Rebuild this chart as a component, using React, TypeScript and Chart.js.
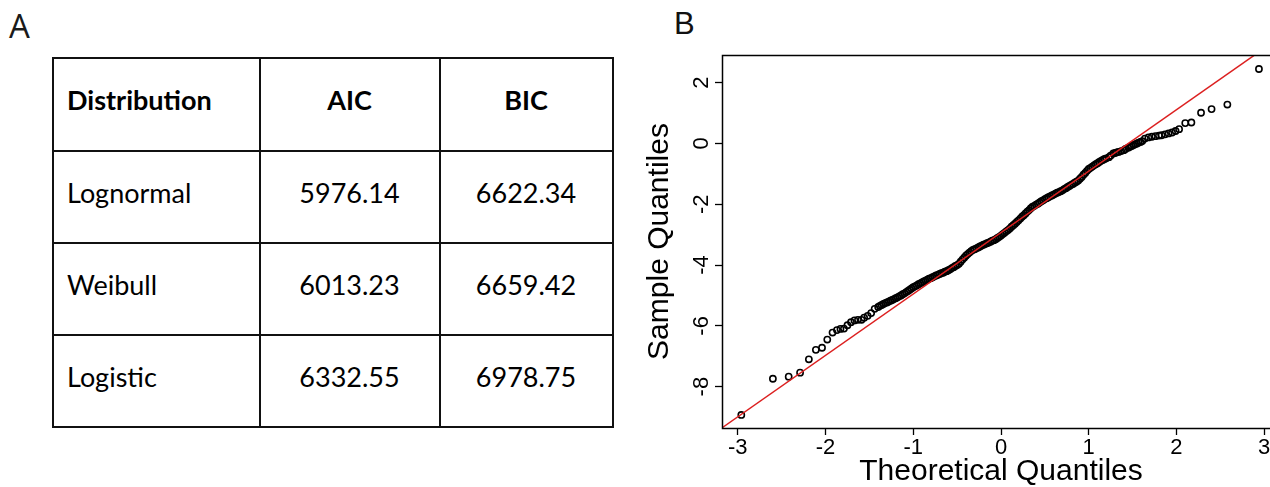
import React, { useEffect, useRef } from "react";
import { Chart, registerables } from "chart.js";

Chart.register(...registerables);

// ---------- Panel A data ----------
const tableHeaders = ["Distribution", "AIC", "BIC"];
const distributions = ["Lognormal", "Weibull", "Logistic"];
const aicValues = [5976.14, 6013.23, 6332.55];
const bicValues = [6622.34, 6659.42, 6978.75];

// ---------- Panel B data ----------
const theoreticalQuantiles = [
  -2.96, -2.6, -2.42, -2.29, -2.19, -2.11, -2.04, -1.98, -1.92, -1.87, -1.83, -1.79,
  -1.75, -1.71, -1.67, -1.63, -1.59, -1.56, -1.52, -1.48, -1.44, -1.4, -1.38,
  -1.36, -1.34, -1.32, -1.3, -1.28, -1.26, -1.24, -1.22, -1.2, -1.18, -1.16, -1.14,
  -1.12, -1.1, -1.08, -1.06, -1.04, -1.02, -1.0, -0.98, -0.96, -0.94, -0.92, -0.9,
  -0.88, -0.86, -0.84, -0.82, -0.8, -0.78, -0.76, -0.74, -0.72, -0.7, -0.68, -0.66,
  -0.64, -0.62, -0.6, -0.58, -0.56, -0.54, -0.52, -0.5, -0.48, -0.46, -0.44, -0.42,
  -0.4, -0.38, -0.36, -0.34, -0.32, -0.3, -0.28, -0.26, -0.24, -0.22, -0.2, -0.18,
  -0.16, -0.14, -0.12, -0.1, -0.08, -0.06, -0.04, -0.02, 0.0, 0.02, 0.04, 0.06,
  0.08, 0.1, 0.12, 0.14, 0.16, 0.18, 0.2, 0.22, 0.24, 0.26, 0.28, 0.3,
  0.32, 0.34, 0.36, 0.38, 0.4, 0.42, 0.44, 0.46, 0.48, 0.5, 0.52, 0.54,
  0.56, 0.58, 0.6, 0.62, 0.64, 0.66, 0.68, 0.7, 0.72, 0.74, 0.76, 0.78,
  0.8, 0.82, 0.84, 0.86, 0.88, 0.9, 0.92, 0.94, 0.96, 0.98, 1.0, 1.02,
  1.04, 1.06, 1.08, 1.1, 1.12, 1.14, 1.16, 1.18, 1.2,
  1.23, 1.25, 1.28, 1.3, 1.32, 1.34, 1.37, 1.4, 1.42, 1.45, 1.47, 1.49,
  1.51, 1.53, 1.55, 1.57, 1.59, 1.61, 1.64, 1.68, 1.72, 1.76, 1.8, 1.83,
  1.87, 1.91, 1.95, 1.99, 2.03, 2.1, 2.17, 2.28, 2.4, 2.58, 2.94,
];

const sampleQuantiles = [
  -8.93, -7.74, -7.67, -7.54, -7.1, -6.79, -6.72, -6.45, -6.22, -6.14, -6.1, -6.09,
  -5.98, -5.88, -5.82, -5.8, -5.8, -5.73, -5.67, -5.58, -5.44, -5.38, -5.34,
  -5.31, -5.28, -5.25, -5.23, -5.2, -5.17, -5.15, -5.12, -5.09, -5.06, -5.03, -5.0,
  -4.96, -4.93, -4.89, -4.85, -4.81, -4.77, -4.73, -4.7, -4.67, -4.63, -4.6, -4.57,
  -4.54, -4.51, -4.48, -4.45, -4.43, -4.4, -4.37, -4.34, -4.32, -4.29, -4.27, -4.25,
  -4.22, -4.2, -4.17, -4.14, -4.1, -4.07, -4.03, -4.0, -3.96, -3.89, -3.82, -3.76,
  -3.69, -3.64, -3.59, -3.54, -3.5, -3.48, -3.45, -3.42, -3.39, -3.36, -3.33, -3.31,
  -3.28, -3.26, -3.23, -3.2, -3.18, -3.15, -3.11, -3.07, -3.03, -2.98, -2.94, -2.89,
  -2.85, -2.8, -2.74, -2.69, -2.64, -2.58, -2.53, -2.47, -2.41, -2.36, -2.3, -2.24,
  -2.19, -2.13, -2.08, -2.05, -2.01, -1.98, -1.94, -1.9, -1.87, -1.83, -1.8, -1.77,
  -1.74, -1.71, -1.68, -1.65, -1.62, -1.6, -1.57, -1.54, -1.5, -1.47, -1.43, -1.4,
  -1.36, -1.33, -1.29, -1.26, -1.22, -1.16, -1.1, -1.03, -0.97, -0.9, -0.84, -0.8,
  -0.76, -0.72, -0.68, -0.65, -0.61, -0.57, -0.54, -0.51, -0.49,
  -0.45, -0.4, -0.33, -0.31, -0.29, -0.28, -0.25, -0.22, -0.18, -0.14, -0.11, -0.08,
  -0.05, -0.03, 0.0, 0.03, 0.05, 0.08, 0.16, 0.2, 0.22, 0.24, 0.26, 0.27,
  0.3, 0.33, 0.36, 0.41, 0.47, 0.67, 0.69, 1.01, 1.13, 1.28, 2.45,
];

// reference line (qqline): sample = intercept + slope * theoretical
const qqLineIntercept = -2.93;
const qqLineSlope = 2.02;

const xAxisRange = [-3.18, 3.18];
const yAxisRange = [-9.36, 2.91];
const xTickStep = 1;
const yTickStep = 2;

const PLOT_FONT = '"Liberation Sans", Arial, Helvetica, sans-serif';

const framePlugin = {
  id: "rFrame",
  afterDraw(chart: any) {
    const { ctx, chartArea: a } = chart;
    ctx.save();
    ctx.strokeStyle = "#000";
    ctx.lineWidth = 1.5;
    ctx.strokeRect(
      Math.round(a.left) + 0.5,
      Math.round(a.top) + 0.5,
      Math.round(a.right - a.left),
      Math.round(a.bottom - a.top)
    );
    ctx.restore();
  },
};

const rotatedYLabelsPlugin = {
  id: "rotatedYLabels",
  afterDraw(chart: any) {
    const s = chart.scales.y;
    const ctx = chart.ctx;
    const baseX = chart.chartArea.left - 14;
    ctx.save();
    ctx.fillStyle = "#000";
    ctx.font = `22px ${PLOT_FONT}`;
    ctx.textAlign = "center";
    ctx.textBaseline = "alphabetic";
    s.ticks.forEach((t: any) => {
      const y = s.getPixelForValue(t.value);
      ctx.save();
      ctx.translate(baseX, y);
      ctx.rotate(-Math.PI / 2);
      ctx.fillText(String(t.label), 0, 0);
      ctx.restore();
    });
    ctx.restore();
  },
};

function QQPlot() {
  const ref = useRef<HTMLCanvasElement | null>(null);
  useEffect(() => {
    if (!ref.current) return;
    const points = theoreticalQuantiles.map((x, i) => ({ x, y: sampleQuantiles[i] }));
    const linePts = xAxisRange.map((x) => ({ x, y: qqLineIntercept + qqLineSlope * x }));
    const chart = new Chart(ref.current, {
      type: "scatter",
      data: {
        datasets: [
          {
            type: "line",
            data: linePts,
            borderColor: "#dc2020",
            borderWidth: 1.5,
            pointRadius: 0,
            fill: false,
            order: 0,
          } as any,
          {
            type: "scatter",
            data: points,
            pointRadius: 3.1,
            pointBorderWidth: 1.6,
            pointBorderColor: "#000",
            pointBackgroundColor: "rgba(0,0,0,0)",
            order: 1,
          } as any,
        ],
      },
      options: {
        animation: false,
        responsive: false,
        events: [],
        layout: { padding: { left: 0, right: 10, top: 55, bottom: 0 } },
        plugins: { legend: { display: false }, tooltip: { enabled: false } },
        scales: {
          x: {
            type: "linear",
            min: xAxisRange[0],
            max: xAxisRange[1],
            afterFit: (s: any) => {
              s.height = 59;
            },
            ticks: {
              stepSize: xTickStep,
              includeBounds: false,
              autoSkip: false,
              maxRotation: 0,
              color: "#000",
              padding: 0,
              font: { family: PLOT_FONT, size: 22 },
            },
            grid: {
              drawOnChartArea: false,
              drawTicks: true,
              tickLength: 7,
              tickColor: "#000",
              tickWidth: 1.3,
            },
            border: { display: false },
            title: {
              display: true,
              text: "Theoretical Quantiles",
              color: "#000",
              padding: 0,
              font: { family: PLOT_FONT, size: 30, lineHeight: 1 },
            },
          },
          y: {
            type: "linear",
            min: yAxisRange[0],
            max: yAxisRange[1],
            afterFit: (s: any) => {
              s.width = 82;
            },
            ticks: {
              stepSize: yTickStep,
              includeBounds: false,
              display: false,
            },
            grid: {
              drawOnChartArea: false,
              drawTicks: true,
              tickLength: 7,
              tickColor: "#000",
              tickWidth: 1.3,
            },
            border: { display: false },
            title: {
              display: true,
              text: "Sample Quantiles",
              color: "#000",
              padding: { top: 5, bottom: 0 },
              font: { family: PLOT_FONT, size: 30, lineHeight: 1 },
            },
          },
        },
      } as any,
      plugins: [framePlugin, rotatedYLabelsPlugin],
    });
    return () => chart.destroy();
  }, []);
  return <canvas ref={ref} width={650} height={487} style={{ width: 650, height: 487, display: "block" }} />;
}

const cellBorder = "2px solid #111";
const TABLE_FONT = 'Lato, "Open Sans", "Liberation Sans", sans-serif';

export default function App() {
  const rows = distributions.map((d, i) => [d, aicValues[i].toFixed(2), bicValues[i].toFixed(2)]);
  const colWidths = [207, 180, 173];
  return (
    <div
      style={{
        position: "absolute",
        left: 0,
        top: 0,
        width: 1270,
        height: 487,
        overflow: "hidden",
        background: "#fff",
      }}
    >
      <div
        style={{
          position: "absolute",
          left: 9,
          top: 2,
          fontFamily: '"Open Sans", "Liberation Sans", sans-serif',
          fontWeight: 400,
          fontSize: 33,
          lineHeight: "48px",
          color: "#1a1a1a",
        }}
      >
        A
      </div>
      <table
        style={{
          position: "absolute",
          left: 52,
          top: 57,
          width: 562,
          borderCollapse: "collapse",
          tableLayout: "fixed",
          fontFamily: TABLE_FONT,
          fontSize: 27,
          color: "#000",
        }}
      >
        <colgroup>
          {colWidths.map((w, i) => (
            <col key={i} style={{ width: w }} />
          ))}
        </colgroup>
        <tbody>
          <tr style={{ height: 93 }}>
            {tableHeaders.map((h, i) => (
              <td
                key={h}
                style={{
                  border: cellBorder,
                  fontWeight: 700,
                  textAlign: i === 0 ? "left" : "center",
                  paddingLeft: i === 0 ? 13 : 0,
                  paddingBottom: 12,
                  verticalAlign: "middle",
                }}
              >
                {h}
              </td>
            ))}
          </tr>
          {rows.map((r) => (
            <tr key={r[0]} style={{ height: 92 }}>
              {r.map((c, i) => (
                <td
                  key={i}
                  style={{
                    border: cellBorder,
                    textAlign: i === 0 ? "left" : "center",
                    paddingLeft: i === 0 ? 13 : 0,
                    paddingBottom: 11,
                    verticalAlign: "middle",
                  }}
                >
                  {c}
                </td>
              ))}
            </tr>
          ))}
        </tbody>
      </table>
      <div
        style={{
          position: "absolute",
          left: 674,
          top: 4,
          fontFamily: PLOT_FONT,
          fontSize: 31,
          lineHeight: "40px",
          color: "#111",
        }}
      >
        B
      </div>
      <div style={{ position: "absolute", left: 640, top: 0, width: 650, height: 487 }}>
        <QQPlot />
      </div>
    </div>
  );
}
